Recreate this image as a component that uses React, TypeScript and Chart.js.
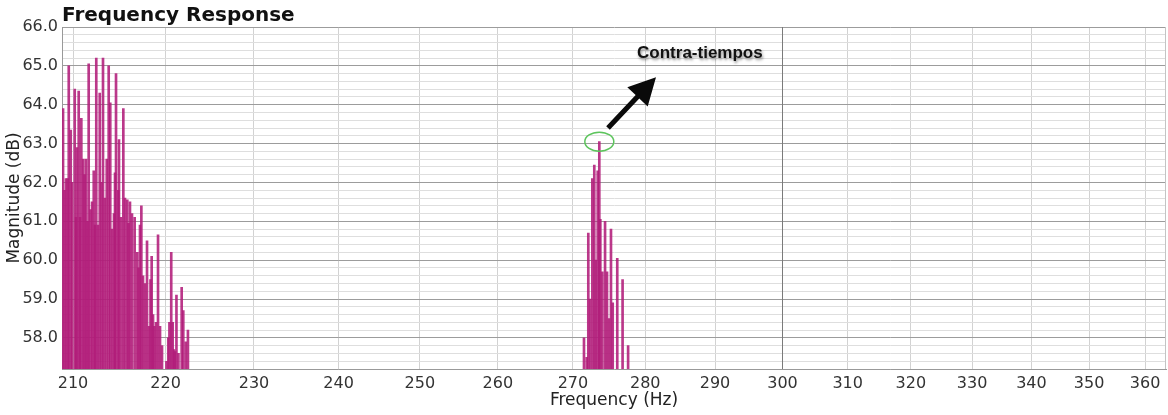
import React, { useEffect, useRef } from 'react';
import { Chart, registerables } from 'chart.js';

Chart.register(...registerables);

// ---------- data ----------
const lowFreqs = [
  208.95, 209.10, 209.26, 209.44, 209.55, 209.76, 209.89, 210.18, 210.32, 210.42,
  210.60, 210.74, 210.88, 211.09, 211.22, 211.38, 211.54, 211.66, 211.86, 212.02,
  212.20, 212.34, 212.47, 212.66, 212.84, 213.03, 213.19, 213.38, 213.59, 213.80,
  213.97, 214.16, 214.37, 214.48, 214.59, 214.84, 214.91, 215.13, 215.38, 215.56,
  215.81, 215.94, 216.10, 216.32, 216.61, 216.90, 217.03, 217.19, 217.34, 217.52,
  217.74, 217.96, 218.18, 218.34, 218.47, 218.62, 218.76, 218.95, 219.17, 219.39,
  219.61, 220.10, 220.30, 220.43, 220.63, 220.79, 220.93, 221.05, 221.21, 221.43,
  221.79, 221.97, 222.24, 222.49,
];
const lowMags = [
  63.9, 61.8, 62.1, 62.1, 65.0, 63.35, 62.0, 64.4, 61.1, 62.9,
  64.35, 61.1, 63.65, 62.6, 62.2, 62.6, 61.0, 65.05, 61.3, 61.5,
  62.3, 60.9, 65.2, 60.9, 64.3, 62.0, 65.2, 61.6, 62.6, 65.0,
  64.05, 60.8, 61.2, 62.25, 64.8, 61.8, 63.1, 61.1, 63.9, 61.6,
  61.55, 60.95, 61.5, 61.2, 61.1, 60.2, 59.8, 60.9, 61.4, 59.6,
  59.4, 60.5, 58.3, 59.5, 60.1, 58.6, 58.3, 58.4, 60.65, 58.3,
  57.8, 57.4, 58.0, 58.4, 60.2, 58.4, 57.7, 57.65, 59.1, 57.6,
  59.3, 58.7, 57.9, 58.2,
];
const peakFreqs = [
  271.51, 271.88, 272.10, 272.33, 272.65, 272.92, 273.12, 273.39, 273.61, 273.75,
  274.03, 274.40, 274.67, 274.95, 275.22, 275.46, 276.09, 276.83, 277.60,
];
const peakMags = [
  58.0, 57.5, 60.7, 59.0, 62.1, 62.45, 60.0, 62.3, 63.05, 61.05,
  59.7, 61.0, 59.7, 58.5, 60.8, 58.9, 60.05, 59.5, 57.8,
];

const xTickValues = [210, 220, 230, 240, 250, 260, 270, 280, 290, 300, 310, 320, 330, 340, 350, 360];
const xDarkGrid = [300];
const yMajorTicks = [58, 59, 60, 61, 62, 63, 64, 65, 66];
const yMinorStep = 0.2;
const X_MIN = 208.84;
const X_MAX = 363.8;
const Y_MIN = 57.2;
const Y_MAX = 66.0;

const titleText = 'Frequency Response';
const xTitle = 'Frequency (Hz)';
const yTitle = 'Magnitude (dB)';
const noteText = 'Contra-tiempos';
const markerPoint = { freq: 273.61, mag: 63.05 };
const arrowTail = { freq: 274.81, mag: 63.40 };
const arrowTip = { freq: 281.52, mag: 64.71 };
const notePos = { freq: 287.8, mag: 65.2 };

// ---------- helpers ----------
const isMajorY = (v: number) => Math.abs(v - Math.round(v)) < 1e-6;
const yTickValues: number[] = [];
for (let i = 0; Y_MIN + i * yMinorStep <= Y_MAX + 1e-9; i++) {
  yTickValues.push(Math.round((Y_MIN + i * yMinorStep) * 10) / 10);
}

const overlayPlugin = {
  id: 'overlay',
  beforeDatasetsDraw(chart: any) {
    const { ctx, chartArea } = chart;
    const xs = chart.scales.x;
    ctx.save();
    ctx.strokeStyle = '#7a7a7a';
    ctx.lineWidth = 1;
    xDarkGrid.forEach((v) => {
      const px = Math.round(xs.getPixelForValue(v)) + 0.5;
      ctx.beginPath();
      ctx.moveTo(px, chartArea.top);
      ctx.lineTo(px, chartArea.bottom);
      ctx.stroke();
    });
    ctx.restore();
  },
  afterDraw(chart: any) {
    const { ctx, chartArea } = chart;
    const xs = chart.scales.x;
    const ys = chart.scales.y;
    ctx.save();
    // right border
    ctx.strokeStyle = '#c4c4c4';
    ctx.lineWidth = 1;
    ctx.beginPath();
    ctx.moveTo(chartArea.right - 0.5, chartArea.top);
    ctx.lineTo(chartArea.right - 0.5, chartArea.bottom);
    ctx.stroke();

    // title
    ctx.font = 'bold 20px "DejaVu Sans", sans-serif';
    ctx.fillStyle = '#111';
    ctx.textAlign = 'left';
    ctx.textBaseline = 'alphabetic';
    ctx.fillText(titleText, chartArea.left, 21);

    // ellipse marker
    const mx = xs.getPixelForValue(markerPoint.freq);
    const my = ys.getPixelForValue(markerPoint.mag);
    ctx.strokeStyle = '#5cc45c';
    ctx.lineWidth = 1.5;
    ctx.beginPath();
    ctx.ellipse(mx, my, 14.5, 9.5, 0, 0, Math.PI * 2);
    ctx.stroke();

    // arrow
    const tx = xs.getPixelForValue(arrowTail.freq);
    const ty = ys.getPixelForValue(arrowTail.mag);
    const hx = xs.getPixelForValue(arrowTip.freq);
    const hy = ys.getPixelForValue(arrowTip.mag);
    const dx = hx - tx;
    const dy = hy - ty;
    const len = Math.hypot(dx, dy);
    const ux = dx / len;
    const uy = dy / len;
    const nx = -uy;
    const ny = ux;
    const headLen = 27;
    const headHalf = 14;
    const shaftHalf = 2.5;
    const bx = hx - ux * headLen;
    const by = hy - uy * headLen;
    ctx.fillStyle = '#0a0a0a';
    ctx.beginPath();
    ctx.moveTo(tx + nx * shaftHalf, ty + ny * shaftHalf);
    ctx.lineTo(bx + nx * shaftHalf, by + ny * shaftHalf);
    ctx.lineTo(bx + nx * headHalf, by + ny * headHalf);
    ctx.lineTo(hx, hy);
    ctx.lineTo(bx - nx * headHalf, by - ny * headHalf);
    ctx.lineTo(bx - nx * shaftHalf, by - ny * shaftHalf);
    ctx.lineTo(tx - nx * shaftHalf, ty - ny * shaftHalf);
    ctx.closePath();
    ctx.fill();

    // note text
    const lx = xs.getPixelForValue(notePos.freq);
    const ly = ys.getPixelForValue(notePos.mag);
    ctx.font = 'bold 17px "Liberation Sans", Arial, sans-serif';
    ctx.textAlign = 'center';
    ctx.shadowColor = 'rgba(0,0,0,0.45)';
    ctx.shadowBlur = 3;
    ctx.shadowOffsetX = 1;
    ctx.shadowOffsetY = 2;
    ctx.fillStyle = '#111';
    ctx.fillText(noteText, lx, ly);
    ctx.restore();
  },
};

export default function App() {
  const canvasRef = useRef<HTMLCanvasElement | null>(null);

  useEffect(() => {
    document.body.style.margin = '0';
    const canvas = canvasRef.current;
    if (!canvas) return;
    Chart.defaults.font.family = '"DejaVu Sans", sans-serif';

    const points = [
      ...lowFreqs.map((f, i) => ({ x: f, y: lowMags[i] })),
      ...peakFreqs.map((f, i) => ({ x: f, y: peakMags[i] })),
    ];

    const chart = new Chart(canvas, {
      type: 'bar',
      data: {
        datasets: [
          {
            label: 'Magnitude',
            data: points as any,
            backgroundColor: 'rgba(178, 28, 122, 0.88)',
            borderColor: 'rgba(130, 16, 92, 0.95)',
            borderWidth: 0,
            barThickness: 2,
            grouped: false,
          } as any,
        ],
      },
      options: {
        responsive: false,
        animation: false,
        devicePixelRatio: 1,
        layout: { padding: { top: 27, right: 2, left: 0, bottom: 0 } },
        plugins: {
          legend: { display: false },
          tooltip: { enabled: false },
          title: { display: false },
        },
        scales: {
          x: {
            type: 'logarithmic',
            min: X_MIN,
            max: X_MAX,
            offset: false,
            afterBuildTicks: (s: any) => {
              s.ticks = xTickValues.map((v) => ({ value: v }));
            },
            afterFit: (s: any) => {
              s.height = 46;
            },
            ticks: {
              autoSkip: false,
              maxRotation: 0,
              minRotation: 0,
              padding: 5,
              color: '#333',
              font: { size: 16 },
              callback: (v: any) => String(v),
            },
            grid: {
              offset: false,
              drawTicks: false,
              color: (c: any) => (c.tick && xDarkGrid.includes(c.tick.value) ? '#7a7a7a' : '#d2d2d2'),
              lineWidth: 1,
            },
            border: { display: true, color: '#999' },
            title: {
              display: true,
              text: xTitle,
              color: '#222',
              font: { size: 17 },
              padding: { top: 0, bottom: 4 },
            },
          } as any,
          y: {
            type: 'linear',
            min: Y_MIN,
            max: Y_MAX,
            afterBuildTicks: (s: any) => {
              s.ticks = yTickValues.map((v) => ({ value: v }));
            },
            afterFit: (s: any) => {
              s.width = 62;
            },
            ticks: {
              autoSkip: false,
              padding: 4,
              color: '#333',
              font: { size: 16 },
              callback: (v: any) => (yMajorTicks.some((m) => Math.abs(m - v) < 1e-6) ? Number(v).toFixed(1) : ''),
            },
            grid: {
              drawTicks: false,
              color: (c: any) => (c.tick && isMajorY(c.tick.value) ? '#9c9c9c' : '#dedede'),
              lineWidth: 1,
            },
            border: { display: true, color: '#999' },
            title: {
              display: true,
              text: yTitle,
              color: '#222',
              font: { size: 17 },
              padding: { top: 4, bottom: 0 },
            },
          } as any,
        },
      },
      plugins: [overlayPlugin],
    });

    return () => {
      chart.destroy();
    };
  }, []);

  return (
    <div style={{ position: 'fixed', left: 0, top: 0, width: 1168, height: 415, background: '#fff' }}>
      <canvas ref={canvasRef} width={1168} height={415} style={{ display: 'block' }} />
    </div>
  );
}
